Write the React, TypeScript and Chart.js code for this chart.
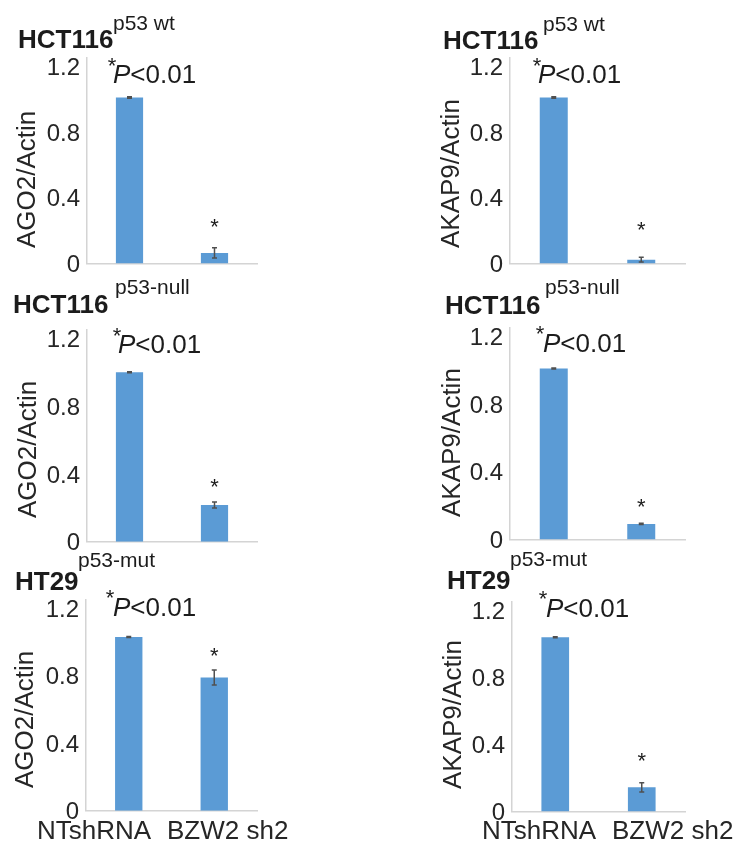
import React, { useEffect, useRef } from "react";
import { Chart, registerables } from "chart.js";

Chart.register(...registerables);

// ---------------- data ----------------
const categories = ["NTshRNA", "BZW2 sh2"];
const yTicks = [0, 0.4, 0.8, 1.2];
const yMax = 1.25;
const significant = [false, true];

const ago2P53wt = [1.01, 0.065];
const ago2P53wtErr = [0.004, 0.031];
const akap9P53wt = [1.01, 0.024];
const akap9P53wtErr = [0.004, 0.014];

const ago2P53null = [1.0, 0.217];
const ago2P53nullErr = [0.003, 0.018];
const akap9P53null = [1.01, 0.092];
const akap9P53nullErr = [0.003, 0.004];

const ago2P53mut = [1.03, 0.79];
const ago2P53mutErr = [0.003, 0.045];
const akap9P53mut = [1.04, 0.144];
const akap9P53mutErr = [0.003, 0.027];

const cellLines = ["HCT116", "HCT116", "HT29"];
const genotypes = ["p53 wt", "p53-null", "p53-mut"];
const yTitles = ["AGO2/Actin", "AKAP9/Actin"];
const pLabel = ["P", "<0.01"];

// ---------------- styling / layout ----------------
const FONT = "'Liberation Sans', Arial, Helvetica, sans-serif";
const BAR = "#5b9bd5";
const AXIS = "#d4d4d4";
const TEXT = "#1c1c1c";
const Y_W = 50;

type Layout = {
  canvas: { x: number; y: number; w: number; h: number };
  area: { l: number; r: number; t: number; b: number };
  title: { x: number; y: number };
  sup: { x: number; y: number };
  star: { x: number; y: number };
  p: { x: number; y: number };
  yTitle: { x: number; y: number };
  starGap: number;
  xLabels: number[] | null;
};

const layouts: Layout[] = [
  {
    canvas: { x: 0, y: 0, w: 369, h: 285 },
    area: { l: 87, r: 257, t: 58, b: 269.3 },
    title: { x: 18, y: 48 },
    sup: { x: 113, y: 30 },
    star: { x: 112, y: 60 },
    p: { x: 113, y: 83.3 },
    yTitle: { x: 35.3, y: 248 },
    starGap: 26.7,
    xLabels: null,
  },
  {
    canvas: { x: 369, y: 0, w: 369, h: 285 },
    area: { l: 510, r: 685, t: 58, b: 269.3 },
    title: { x: 443, y: 49 },
    sup: { x: 543, y: 31 },
    star: { x: 537, y: 60 },
    p: { x: 538, y: 82.7 },
    yTitle: { x: 459.3, y: 248 },
    starGap: 32.7,
    xLabels: null,
  },
  {
    canvas: { x: 0, y: 275, w: 369, h: 290 },
    area: { l: 87, r: 257, t: 330, b: 541.7 },
    title: { x: 13, y: 313 },
    sup: { x: 115, y: 294 },
    star: { x: 117, y: 330 },
    p: { x: 118, y: 353 },
    yTitle: { x: 36.3, y: 518 },
    starGap: 20.3,
    xLabels: null,
  },
  {
    canvas: { x: 369, y: 275, w: 369, h: 290 },
    area: { l: 510, r: 685, t: 328, b: 539.5 },
    title: { x: 445, y: 314 },
    sup: { x: 545, y: 294 },
    star: { x: 540, y: 328 },
    p: { x: 543, y: 352 },
    yTitle: { x: 460.3, y: 517 },
    starGap: 21.7,
    xLabels: null,
  },
  {
    canvas: { x: 0, y: 545, w: 369, h: 296 },
    area: { l: 86, r: 257, t: 600, b: 810.7 },
    title: { x: 15, y: 590 },
    sup: { x: 78, y: 567 },
    star: { x: 110, y: 592 },
    p: { x: 113, y: 616 },
    yTitle: { x: 33.3, y: 788 },
    starGap: 19,
    xLabels: [37, 167],
  },
  {
    canvas: { x: 369, y: 545, w: 369, h: 296 },
    area: { l: 512, r: 685, t: 602, b: 811.5 },
    title: { x: 447, y: 589 },
    sup: { x: 510, y: 566 },
    star: { x: 543, y: 593 },
    p: { x: 546, y: 617 },
    yTitle: { x: 461.3, y: 789 },
    starGap: 27.7,
    xLabels: [482, 612],
  },
];

const panels = [
  { values: ago2P53wt, errors: ago2P53wtErr, row: 0, col: 0 },
  { values: akap9P53wt, errors: akap9P53wtErr, row: 0, col: 1 },
  { values: ago2P53null, errors: ago2P53nullErr, row: 1, col: 0 },
  { values: akap9P53null, errors: akap9P53nullErr, row: 1, col: 1 },
  { values: ago2P53mut, errors: ago2P53mutErr, row: 2, col: 0 },
  { values: akap9P53mut, errors: akap9P53mutErr, row: 2, col: 1 },
];

function makePlugin(panel: any, L: Layout) {
  return {
    id: "panelAnno",
    afterDatasetsDraw(chart: any) {
      const ctx = chart.ctx as CanvasRenderingContext2D;
      const xs = chart.scales.x;
      const ys = chart.scales.y;
      ctx.save();
      ctx.strokeStyle = "#505050";
      ctx.lineWidth = 1.5;
      panel.values.forEach((v: number, i: number) => {
        const e = panel.errors[i];
        const x = xs.getPixelForValue(i);
        const y1 = ys.getPixelForValue(v + e);
        const y2 = ys.getPixelForValue(Math.max(0, v - e));
        ctx.beginPath();
        ctx.moveTo(x, y1);
        ctx.lineTo(x, y2);
        ctx.moveTo(x - 2.5, y1);
        ctx.lineTo(x + 2.5, y1);
        ctx.moveTo(x - 2.5, y2);
        ctx.lineTo(x + 2.5, y2);
        ctx.stroke();
        if (significant[i]) {
          ctx.fillStyle = TEXT;
          ctx.font = `22px ${FONT}`;
          ctx.textAlign = "center";
          ctx.textBaseline = "alphabetic";
          ctx.fillText("*", x, y1 - L.starGap + 0.57 * 22);
        }
      });
      ctx.restore();
    },
    afterDraw(chart: any) {
      const ctx = chart.ctx as CanvasRenderingContext2D;
      ctx.save();
      ctx.translate(-L.canvas.x, -L.canvas.y);
      ctx.fillStyle = TEXT;
      ctx.textBaseline = "alphabetic";
      ctx.textAlign = "left";
      // title
      ctx.font = `bold 26px ${FONT}`;
      ctx.fillText(cellLines[panel.row], L.title.x, L.title.y);
      ctx.font = `21px ${FONT}`;
      ctx.fillText(genotypes[panel.row], L.sup.x, L.sup.y);
      // *P<0.01
      ctx.font = `22px ${FONT}`;
      ctx.textAlign = "center";
      ctx.fillText("*", L.star.x, L.star.y + 0.57 * 22);
      ctx.textAlign = "left";
      ctx.font = `italic 26px ${FONT}`;
      ctx.fillText(pLabel[0], L.p.x, L.p.y);
      const w = ctx.measureText(pLabel[0]).width;
      ctx.font = `26px ${FONT}`;
      ctx.fillText(pLabel[1], L.p.x + w, L.p.y);
      // y title
      ctx.save();
      ctx.translate(L.yTitle.x, L.yTitle.y);
      ctx.rotate(-Math.PI / 2);
      ctx.font = `26px ${FONT}`;
      ctx.fillStyle = "#262626";
      ctx.fillText(yTitles[panel.col], 0, 0);
      ctx.restore();
      // x labels
      if (L.xLabels) {
        ctx.font = `26px ${FONT}`;
        ctx.fillStyle = "#262626";
        categories.forEach((c, i) => {
          ctx.fillText(c, L.xLabels![i], 839);
        });
      }
      ctx.restore();
    },
  };
}

function Panel({ panel, L }: { panel: any; L: Layout }) {
  const ref = useRef<HTMLCanvasElement | null>(null);
  useEffect(() => {
    if (!ref.current) return;
    const padLeft = L.area.l - L.canvas.x - Y_W;
    const padTop = L.area.t - L.canvas.y;
    const padRight = L.canvas.x + L.canvas.w - L.area.r;
    const padBottom = L.canvas.y + L.canvas.h - L.area.b;
    const chart = new Chart(ref.current, {
      type: "bar",
      data: {
        labels: categories,
        datasets: [
          {
            data: panel.values,
            backgroundColor: BAR,
            borderWidth: 0,
            barPercentage: 0.32,
            categoryPercentage: 1,
          },
        ],
      },
      options: {
        responsive: false,
        animation: false,
        devicePixelRatio: 1,
        layout: {
          padding: { left: padLeft, top: padTop, right: padRight, bottom: padBottom },
        },
        plugins: {
          legend: { display: false },
          tooltip: { enabled: false },
          title: { display: false },
        },
        scales: {
          x: {
            grid: { display: false, drawTicks: false },
            border: { display: true, color: AXIS, width: 1.5 },
            ticks: { display: false },
            afterFit: (s: any) => {
              s.height = 0;
            },
          },
          y: {
            min: 0,
            max: yMax,
            grid: { display: false, drawTicks: false },
            border: { display: true, color: AXIS, width: 1.5 },
            ticks: {
              font: { size: 24, family: FONT },
              color: "#262626",
              padding: 7,
              labelOffset: 2,
              callback: (v: any) => String(v),
            },
            afterBuildTicks: (s: any) => {
              s.ticks = yTicks.map((v) => ({ value: v }));
            },
            afterFit: (s: any) => {
              s.width = Y_W;
            },
          },
        },
      } as any,
      plugins: [makePlugin(panel, L) as any],
    });
    return () => chart.destroy();
  }, []);
  return (
    <canvas
      ref={ref}
      width={L.canvas.w}
      height={L.canvas.h}
      style={{
        position: "absolute",
        left: L.canvas.x,
        top: L.canvas.y,
        width: L.canvas.w,
        height: L.canvas.h,
      }}
    />
  );
}

export default function App() {
  return (
    <div
      style={{
        position: "absolute",
        left: 0,
        top: 0,
        width: 738,
        height: 841,
        background: "#ffffff",
        overflow: "hidden",
      }}
    >
      {panels.map((p, i) => (
        <Panel key={i} panel={p} L={layouts[i]} />
      ))}
    </div>
  );
}
